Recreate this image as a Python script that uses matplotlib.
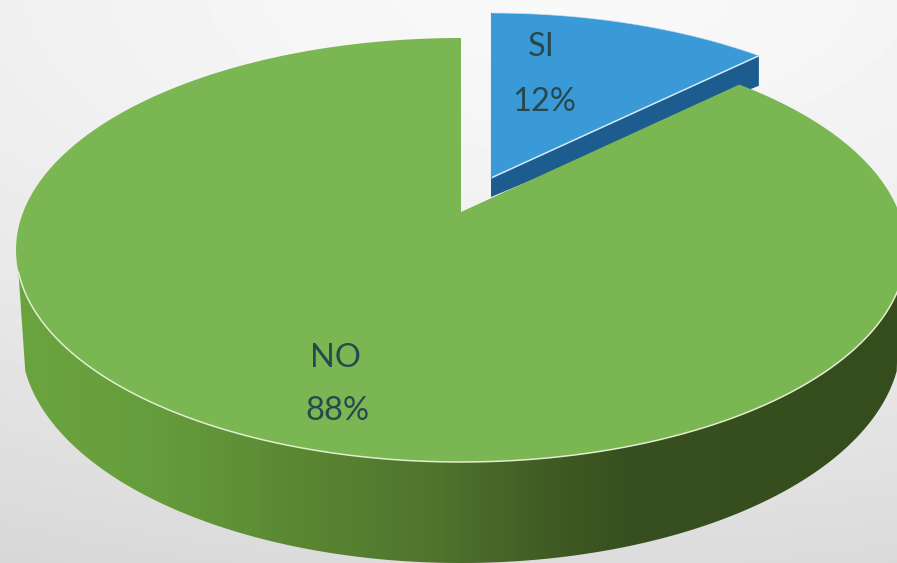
import numpy as np
import matplotlib
matplotlib.use("Agg")
import matplotlib.pyplot as plt
from matplotlib.colors import LinearSegmentedColormap
from matplotlib.patches import Polygon

categories = ["SI", "NO"]
values = [12, 88]

W, H = 897, 563
fig = plt.figure(figsize=(W / 100, H / 100), dpi=100)
ax = fig.add_axes([0, 0, 1, 1])
ax.set_xlim(0, W)
ax.set_ylim(H, 0)
ax.axis("off")

# background
yy, xx = np.mgrid[0:H, 0:W]
d = np.sqrt(((xx - 560) / 1300) ** 2 + ((yy + 20) / 620) ** 2)
bg = 0.975 - 0.125 * np.clip(d, 0, 1.1) ** 1.5
ax.imshow(bg, cmap="gray", vmin=0, vmax=1, extent=(0, W, H, 0), aspect="auto", zorder=0)

theta_end = np.cumsum(values) / np.sum(values) * 360


def warp(theta, a):
    return np.radians(theta - a * np.sin(np.radians(2 * theta)))


def ellipse(t, cx, cy, rx, ry):
    return np.column_stack([cx + rx * np.sin(t), cy - ry * np.cos(t)])


TOP = dict(cx=461, cy=250, rx=445, ry=212)
BOTTOM = dict(cx=461, cy=340, rx=440, ry=223)
TOP_BLUE = dict(cx=491, cy=225, rx=445, ry=212)
APEX_GREEN = (461, 212)
APEX_BLUE = (491, 178)

# exploded SI slice
th = np.linspace(0, theta_end[0], 80)
blue_arc = ellipse(warp(th, 6.2), **TOP_BLUE)
tip = blue_arc[-1]
side_b = [APEX_BLUE, tip, (tip[0], tip[1] + 30), (APEX_BLUE[0], APEX_BLUE[1] + 19)]
ax.add_patch(Polygon(side_b, closed=True, fc="#1c5c8e", ec="none", zorder=2))
blue_top = np.vstack([[APEX_BLUE], blue_arc])
ax.add_patch(Polygon(blue_top, closed=True, fc="#3a9ad7", ec="none", zorder=3))
ax.plot(*np.array([APEX_BLUE, tip]).T, color="#d5e9f6", lw=1.1, zorder=4)
ax.plot(*blue_arc.T, color="#cfe3f0", lw=0.6, alpha=0.7, zorder=4)
ax.plot(*np.array([APEX_BLUE, blue_arc[0]]).T, color="#5f8fb0", lw=0.8, zorder=4)

# side wall of NO slice, horizontal gradient
front_top = ellipse(np.radians(np.linspace(100, 264, 200)), **TOP)
front_bot = ellipse(np.radians(np.linspace(262, 98, 200)), **BOTTOM)
side = Polygon(np.vstack([front_top, front_bot]), closed=True, fc="none", ec="none", zorder=5)
ax.add_patch(side)
cmap = LinearSegmentedColormap.from_list(
    "wall",
    [(0.0, "#6ba53f"), (0.17, "#659d3c"), (0.33, "#5b8733"), (0.48, "#50752e"),
     (0.62, "#3f5a23"), (0.70, "#38501f"), (1.0, "#354c1d")],
)
grad = np.linspace(0, 1, W)[None, :]
im = ax.imshow(grad, cmap=cmap, extent=(0, W, H, 0), aspect="auto", zorder=5)
im.set_clip_path(side)

# NO slice top
th = np.linspace(theta_end[0], theta_end[1], 400)
green_arc = ellipse(warp(th, 4.5), **TOP)
green_top = np.vstack([[APEX_GREEN], green_arc])
ax.add_patch(Polygon(green_top, closed=True, fc="#7ab752", ec="none", zorder=6))
ax.plot(*front_top.T, color="#e3edcf", lw=1.1, zorder=7)

# labels
TXT = "#27484c"
font = dict(family=["Lato", "DejaVu Sans"], weight="normal", fontsize=23.5,
            color=TXT, ha="center", va="center", zorder=8)
ax.text(541, 47, categories[0], **font)
ax.text(544, 102, f"{values[0]}%", **font)
ax.text(335, 358, categories[1], **font)
ax.text(337, 411, f"{values[1]}%", **font)

ax.set_xlim(0, W)
ax.set_ylim(H, 0)
fig.savefig("out.png", dpi=100)
